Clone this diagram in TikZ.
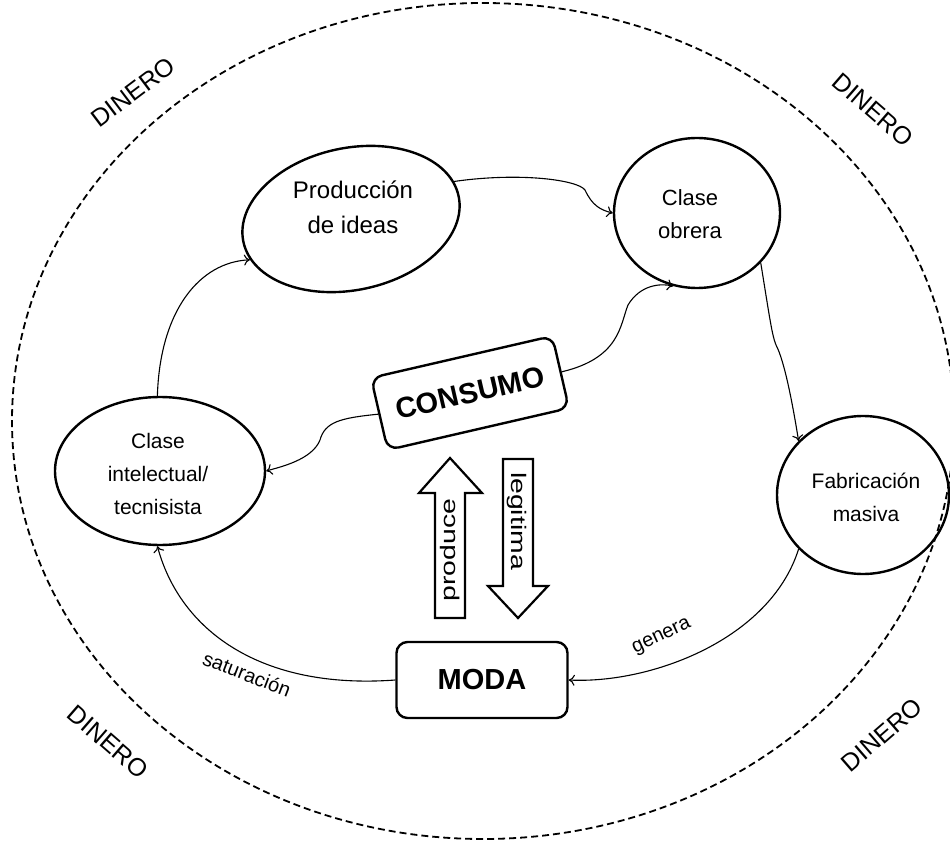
\documentclass[tikz,border=0pt]{standalone}
\usepackage{fontspec}
\setmainfont{Liberation Sans}
\usetikzlibrary{shapes.geometric,arrows.meta}
\begin{document}
\begin{tikzpicture}[x=1pt,y=-1pt,
  ell/.style={draw, ellipse, line width=2.4pt, inner sep=0pt},
  lbl/.style={align=center, font=\fontsize{21}{33}\selectfont},
  elbl/.style={font=\fontsize{20}{24}\selectfont},
  rbox/.style={draw, line width=2.4pt, rounded corners=11pt, inner sep=0pt, font=\fontsize{29}{33}\selectfont\bfseries},
  conn/.style={line width=1.1pt, -{To[length=6pt,width=11pt]}},
  din/.style={font=\fontsize{25}{28}\selectfont},
  blk/.style={line width=2.2pt, line join=miter}
]
\useasboundingbox (0,0) rectangle (950,842);
% outer dashed ellipse
\node[draw, ellipse, line width=1.8pt, dash pattern=on 7pt off 4pt, minimum width=942pt, minimum height=836pt, inner sep=0pt] (outer) at (483,421) {};
% DINERO labels
\node[din, rotate=37] (d1) at (133,92) {DINERO};
\node[din, rotate=-41] (d2) at (873,110) {DINERO};
\node[din, rotate=-41] (d3) at (108,742) {DINERO};
\node[din, rotate=41] (d4) at (882,735) {DINERO};
% ellipses
\node[ell, rotate=12, minimum width=220pt, minimum height=142pt] (prod) at (351,219) {};
\node[lbl, font=\fontsize{24}{35}\selectfont] (prodt) at (353,207) {Producción\\de ideas};
\node[ell, minimum width=166pt, minimum height=150pt] (obr) at (697,213) {};
\node[lbl, font=\fontsize{22}{33}\selectfont] (obrt) at (690,214) {Clase\\obrera};
\node[ell, minimum width=172pt, minimum height=158pt] (fab) at (863,495) {};
\node[lbl] (fabt) at (866,497) {Fabricación\\masiva};
\node[ell, minimum width=210pt, minimum height=148pt] (int) at (160,471) {};
\node[lbl] (intt) at (158,474) {Clase\\intelectual/\\tecnisista};
% boxes
\node[rbox, rotate=13, minimum width=186pt, minimum height=74pt] (cons) at (470,393) {CONSUMO};
\node[rbox, minimum width=171pt, minimum height=76pt] (moda) at (482,680) {MODA};
% block arrows
\draw[blk] (435,618) -- (435,493) -- (419,493) -- (450,458) -- (482,493) -- (465,493) -- (465,618) -- cycle;
\node[lbl, rotate=90] (produce) at (450,550) {\scalebox{1.35}[1]{produce}};
\draw[blk] (503,459) -- (533,459) -- (533,586) -- (548,586) -- (518,618) -- (488,586) -- (503,586) -- cycle;
\node[lbl, rotate=-90] (legit) at (517,521) {\scalebox{1.35}[1]{legitima}};
% connectors
\draw[conn] (prod.8) .. controls (520,172) and (578,180) .. (585,190) .. controls (592,205) and (600,210) .. (obr.west);
\draw[conn] (obr.-38) .. controls (770,320) and (772,335) .. (776,345) .. controls (784,360) and (792,400) .. (fab.140);
\draw[conn] (fab.-140) .. controls (770,640) and (650,684) .. (moda.east);
\node[elbl, rotate=25] (gen) at (662,637) {genera};
\draw[conn] (moda.west) .. controls (260,690) and (180,630) .. (int.-92);
\node[elbl, rotate=-21] (sat) at (247,674) {saturación};
\draw[conn] (int.92) .. controls (160,310) and (200,262) .. (prod.190);
\draw[conn] (cons.east) .. controls (620,358) and (620,325) .. (628,305) .. controls (640,285) and (660,283) .. (obr.-108);
\draw[conn] (cons.west) .. controls (340,418) and (325,422) .. (320,440) .. controls (312,460) and (280,467) .. (int.east);
\end{tikzpicture}
\end{document}
